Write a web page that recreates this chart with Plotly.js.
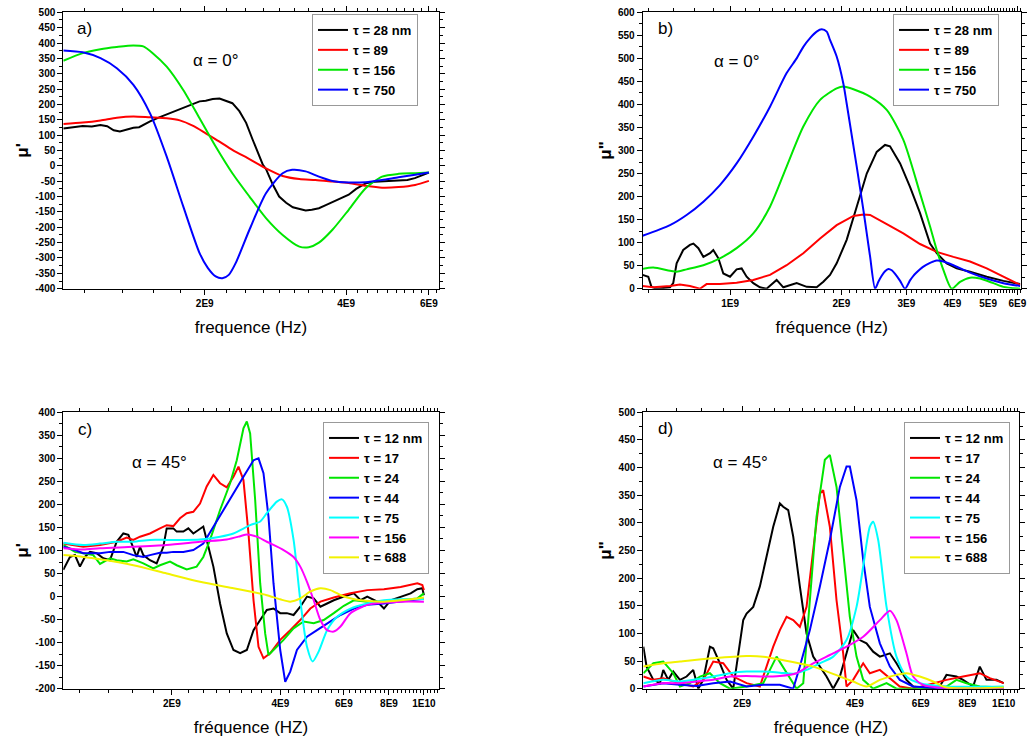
<!DOCTYPE html>
<html><head><meta charset="utf-8">
<script src="https://cdn.plot.ly/plotly-3.0.1.min.js"></script>
<style>html,body{margin:0;padding:0;background:#fff;} #chart{width:1027px;height:737px;}</style>
</head><body><div id="chart"></div>
<script>
// ---------- Panel a) mu' , alpha = 0 deg (frequency in GHz) ----------
const aBlackGHz = [1.00,1.05,1.10,1.15,1.20,1.24,1.28,1.32,1.36,1.41,1.45,1.53,1.60,1.66,1.72,1.80,1.87,1.95,2.01,2.08,2.15,2.22,2.29,2.37,2.45,2.53,2.61,2.66,2.70,2.79,2.88,2.98,3.08,3.18,3.28,3.38,3.50,3.62,3.74,3.90,4.05,4.20,4.40,4.60,4.80,5.00,5.20,5.40,5.60,5.80,6.00];
const aBlackMu  = [122,126,130,128,133,129,116,112,118,124,126,145,158,168,178,190,200,210,212,218,219,212,204,178,140,85,35,3,-10,-60,-100,-120,-135,-140,-145,-143,-138,-128,-118,-105,-94,-75,-57,-52,-51,-50,-49,-46,-40,-32,-22];
const aRedGHz = [1.00,1.10,1.20,1.30,1.41,1.53,1.66,1.77,1.89,2.01,2.15,2.29,2.49,2.70,2.93,3.18,3.44,3.74,4.05,4.40,4.77,5.17,5.61,6.00];
const aRedMu  = [136,141,148,157,161,158,155,148,130,106,79,52,22,-8,-33,-43,-46,-51,-56,-65,-71,-69,-62,-49];
const aGreenGHz = [1.00,1.10,1.20,1.30,1.41,1.48,1.55,1.66,1.80,1.95,2.11,2.29,2.49,2.70,2.93,3.18,3.33,3.50,3.74,4.05,4.40,4.77,5.17,5.61,6.00];
const aGreenMu  = [342,367,380,387,392,389,367,323,247,155,63,-24,-100,-170,-225,-263,-265,-250,-208,-143,-73,-35,-26,-24,-22];
const aBlueGHz = [1.00,1.10,1.20,1.30,1.41,1.53,1.66,1.80,1.95,2.03,2.11,2.18,2.25,2.33,2.49,2.70,2.93,3.07,3.28,3.50,3.74,4.05,4.40,4.77,5.17,5.61,6.00];
const aBlueMu  = [376,370,351,318,264,171,30,-132,-284,-332,-360,-366,-355,-315,-208,-89,-24,-13,-18,-35,-49,-54,-53,-46,-37,-29,-22];
const aNames = ['τ = 28 nm','τ = 89','τ = 156','τ = 750'];

// ---------- Panel b) mu'' , alpha = 0 deg ----------
const bBlackGHz = [0.579,0.600,0.612,0.632,0.687,0.701,0.716,0.746,0.778,0.795,0.820,0.846,0.882,0.900,0.929,0.958,0.999,1.041,1.074,1.108,1.155,1.204,1.255,1.336,1.393,1.514,1.612,1.715,1.788,1.864,1.943,2.068,2.202,2.344,2.494,2.627,2.710,2.886,3.070,3.268,3.479,3.627,3.860,4.108,4.464,4.954,5.497,6.100];
const bBlackMu  = [30,26,4,0,3,12,55,84,95,98,88,69,77,84,66,33,26,42,44,26,12,3,0,19,3,12,4,3,15,30,55,106,178,250,297,312,309,272,221,164,98,77,55,44,37,26,17,10];
const bRedGHz = [0.579,0.619,0.687,0.731,0.778,0.828,0.863,0.938,1.041,1.155,1.282,1.422,1.578,1.752,1.943,2.157,2.296,2.393,2.655,2.945,3.268,3.627,4.024,4.464,4.954,5.497,6.100];
const bRedMu  = [6,3,6,9,6,0,10,10,13,19,30,51,77,109,138,158,161,160,140,120,97,80,69,59,44,26,8];
const bGreenGHz = [0.579,0.619,0.687,0.716,0.762,0.846,0.938,1.041,1.155,1.282,1.422,1.578,1.752,1.943,2.026,2.157,2.393,2.655,2.945,3.268,3.479,3.627,3.780,3.982,4.195,4.464,4.752,5.164,5.497,6.100];
const bGreenMu  = [43,46,39,37,42,51,66,88,120,178,265,352,410,435,439,433,417,388,323,207,135,84,41,0,15,24,22,12,4,0];
const bBlueGHz = [0.579,0.687,0.762,0.846,0.938,1.041,1.155,1.282,1.422,1.514,1.578,1.650,1.715,1.770,1.826,1.864,1.943,2.026,2.068,2.157,2.202,2.296,2.344,2.393,2.469,2.520,2.573,2.627,2.683,2.740,2.797,2.886,2.976,3.070,3.135,3.268,3.337,3.479,3.552,3.627,3.780,4.024,4.464,4.954,5.497,6.100];
const bBlueMu  = [115,138,160,189,225,272,330,395,468,500,525,545,558,563,558,540,504,445,402,310,265,170,120,70,0,15,28,38,43,40,32,17,0,18,28,42,48,56,59,61,59,51,35,22,12,6];

// ---------- Panel c) mu' , alpha = 45 deg ----------
const cBlackGHz = [1.000,1.021,1.043,1.077,1.112,1.148,1.186,1.237,1.291,1.347,1.406,1.467,1.515,1.564,1.597,1.632,1.667,1.739,1.815,1.894,1.935,2.019,2.063,2.152,2.222,2.294,2.394,2.445,2.498,2.607,2.721,2.840,2.964,3.093,3.228,3.369,3.515,3.668,3.827,3.995,4.169,4.351,4.541,4.740,4.947,5.163,5.389,5.624,5.997,6.393,6.673,6.963,7.422,7.747,8.085,8.619,9.187,9.588,9.900,10.0];
const cBlackMu  = [58,72,86,90,65,86,97,94,83,79,119,137,134,105,86,108,90,79,72,108,148,148,141,141,148,137,148,152,123,65,-15,-80,-116,-123,-116,-73,-51,-29,-26,-36,-36,-40,-22,0,-4,-22,-15,-8,0,7,-8,0,-11,-26,-8,0,7,16,18,3];
const cRedGHz = [1.000,1.136,1.264,1.406,1.499,1.564,1.632,1.739,1.854,1.935,2.019,2.107,2.199,2.294,2.394,2.498,2.607,2.721,2.840,2.964,3.060,3.159,3.262,3.369,3.478,3.590,3.747,3.995,4.259,4.541,4.842,5.163,5.624,6.258,6.963,7.747,8.619,9.588,9.900,10.0];
const cRedMu  = [115,108,112,119,128,123,130,137,148,155,153,170,181,184,202,239,264,246,237,260,282,253,137,-8,-109,-134,-123,-94,-73,-51,-26,-11,-2,7,14,16,21,29,25,14];
const cGreenGHz = [1.000,1.077,1.136,1.211,1.264,1.347,1.406,1.499,1.564,1.667,1.777,1.854,1.977,2.063,2.199,2.343,2.445,2.552,2.721,2.901,3.027,3.159,3.228,3.297,3.405,3.515,3.629,3.707,3.827,4.081,4.351,4.639,4.947,5.275,5.624,5.997,6.393,6.963,7.747,8.619,9.588,10.0];
const cGreenMu  = [112,97,94,90,71,83,79,76,81,72,61,68,76,68,59,65,86,123,188,246,296,365,380,354,209,29,-80,-127,-116,-94,-69,-54,-58,-51,-36,-20,-8,-11,-11,-8,-4,7];
const cBlueGHz = [1.000,1.077,1.136,1.264,1.347,1.467,1.564,1.667,1.739,1.854,1.935,2.019,2.152,2.294,2.445,2.607,2.780,2.964,3.159,3.369,3.478,3.590,3.707,3.827,3.995,4.125,4.259,4.445,4.740,5.054,5.389,5.870,6.393,6.963,7.747,8.619,9.588,10.0];
const cBlueMu  = [108,101,94,94,97,97,90,86,90,95,95,97,97,101,115,152,188,224,260,296,300,268,173,29,-116,-185,-163,-116,-87,-73,-58,-40,-26,-18,-15,-11,-8,-5];
const cCyanGHz = [1.000,1.136,1.264,1.406,1.564,1.739,1.935,2.152,2.394,2.721,2.964,3.297,3.515,3.668,3.910,4.038,4.169,4.351,4.541,4.740,4.915,5.109,5.389,5.746,6.258,6.963,7.747,8.619,10.0];
const cCyanMu  = [117,112,115,119,119,123,123,123,124,130,137,155,163,181,206,211,195,123,-8,-109,-141,-119,-73,-44,-26,-15,-8,-6,-6];
const cMagGHz = [1.000,1.136,1.264,1.564,1.935,2.394,2.840,3.093,3.228,3.441,3.668,4.081,4.351,4.541,4.740,4.947,5.163,5.389,5.624,5.870,6.258,6.963,7.747,8.619,10.0];
const cMagMu  = [105,102,105,108,112,119,124,131,135,130,119,101,86,65,32,-8,-51,-73,-76,-65,-36,-18,-13,-11,-11];
const cYelGHz = [1.000,1.136,1.264,1.564,1.935,2.394,2.964,3.297,3.668,3.995,4.259,4.541,4.842,5.163,5.505,5.997,6.673,7.747,8.619,9.588,10.0];
const cYelMu  = [90,86,81,68,50,32,18,11,3,-6,-11,-4,11,18,14,0,-8,-11,-8,-4,-2];
const cNames = ['τ = 12 nm','τ = 17','τ = 24','τ = 44','τ = 75','τ = 156','τ = 688'];

// ---------- Panel d) mu'' , alpha = 45 deg ----------
const dBlackGHz = [1.088,1.110,1.157,1.205,1.230,1.268,1.308,1.363,1.420,1.479,1.526,1.573,1.639,1.673,1.743,1.816,1.892,1.951,2.012,2.054,2.140,2.229,2.323,2.420,2.521,2.573,2.654,2.737,2.851,2.971,3.095,3.225,3.360,3.500,3.647,3.800,3.958,4.124,4.297,4.476,4.665,4.962,5.167,5.495,5.726,6.344,6.746,7.030,7.474,7.787,8.282,8.629,8.991,9.560,10.0];
const dBlackMu  = [76,40,16,10,34,16,31,16,22,34,0,16,76,73,46,16,0,64,124,136,148,185,239,293,335,329,323,275,185,100,58,40,22,0,22,64,106,88,82,67,58,64,46,16,4,0,4,25,22,16,4,40,16,16,10];
const dRedGHz = [1.088,1.157,1.230,1.308,1.363,1.479,1.573,1.673,1.779,1.892,1.971,2.054,2.229,2.323,2.420,2.521,2.627,2.737,2.851,2.971,3.095,3.225,3.291,3.429,3.573,3.722,3.800,3.958,4.210,4.386,4.665,4.962,5.274,5.726,7.030,7.787,8.629,9.177,10.0];
const dRedMu  = [22,16,19,13,10,4,16,49,46,22,16,10,4,40,76,106,130,124,112,148,245,353,359,293,160,64,4,16,46,28,34,19,4,0,16,22,28,19,10];
const dGreenGHz = [1.088,1.157,1.230,1.308,1.363,1.449,1.542,1.639,1.743,1.854,2.054,2.276,2.470,2.627,2.794,2.911,3.032,3.159,3.325,3.429,3.573,3.722,3.878,4.041,4.210,4.476,4.861,5.167,5.726,7.030,7.474,7.949,8.629,10.0];
const dGreenMu  = [28,46,49,28,4,10,22,28,10,0,4,10,58,28,0,10,160,311,414,423,365,251,130,58,16,0,10,0,0,4,16,10,4,2];
const dBlueGHz = [1.088,1.230,1.363,1.510,1.673,1.854,2.054,2.276,2.521,2.737,2.851,3.032,3.225,3.429,3.647,3.800,3.878,4.041,4.210,4.386,4.665,4.962,5.274,5.726,7.030,10.0];
const dBlueMu  = [4,10,7,5,10,13,4,7,7,0,40,106,185,269,365,402,402,341,233,148,82,40,16,4,0,0];
const dCyanGHz = [1.088,1.230,1.363,1.510,1.673,1.854,2.054,2.276,2.521,2.737,2.971,3.225,3.500,3.800,4.041,4.210,4.386,4.476,4.617,4.861,5.167,5.495,5.966,7.030,10.0];
const dCyanMu  = [10,16,13,17,22,28,31,31,29,27,34,46,58,88,148,221,293,302,269,148,58,22,10,4,4];
const dMagGHz = [1.088,1.230,1.363,1.510,1.673,1.854,2.054,2.276,2.521,2.794,3.095,3.429,3.800,4.210,4.665,4.962,5.167,5.495,5.726,6.089,7.030,10.0];
const dMagMu  = [4,10,10,13,16,22,23,22,23,28,46,61,76,94,124,141,124,64,22,7,1,0];
const dYelGHz = [1.088,1.230,1.363,1.673,2.054,2.276,2.521,3.095,3.647,3.958,4.297,4.665,5.167,5.495,5.966,6.475,7.030,8.629,10.0];
const dYelMu  = [40,46,49,55,59,58,53,40,22,13,4,16,25,28,22,13,2,1,2];

// ---------- tick labels ----------
const aXTicks = [2e9,4e9,6e9];            const aXLabels = ['2E9','4E9','6E9'];
const bXTicks = [1e9,2e9,3e9,4e9,5e9,6e9]; const bXLabels = ['1E9','2E9','3E9','4E9','5E9','6E9'];
const cdXTicks = [2e9,4e9,6e9,8e9,1e10];  const cdXLabels = ['2E9','4E9','6E9','8E9','1E10'];
const aYTicks = [-400,-350,-300,-250,-200,-150,-100,-50,0,50,100,150,200,250,300,350,400,450,500];
const bYTicks = [0,50,100,150,200,250,300,350,400,450,500,550,600];
const cYTicks = [-200,-150,-100,-50,0,50,100,150,200,250,300,350,400];
const dYTicks = [0,50,100,150,200,250,300,350,400,450,500];

// ---------- build ----------
const F = 'Arial, "Liberation Sans", sans-serif';
const W = 1027, H = 737;
const px = v => v / W, py = v => 1 - v / H;
const C = {k:'#000000', r:'#ff0000', g:'#00e600', b:'#0000ff', c:'#00ffff', m:'#ff00ff', y:'#f2f200'};

function tr(ghz, mu, name, color, n, legend, smooth) {
  return {x: ghz.map(g => g * 1e9), y: mu, name: name, type: 'scatter', mode: 'lines',
    line: {color: color, width: 2, shape: smooth ? 'spline' : 'linear', smoothing: 0.7},
    xaxis: 'x' + (n === 1 ? '' : n), yaxis: 'y' + (n === 1 ? '' : n), legend: legend, hoverinfo: 'skip'};
}

const traces = [
  tr(aBlackGHz, aBlackMu, aNames[0], C.k, 1, 'legend', false),
  tr(aRedGHz, aRedMu, aNames[1], C.r, 1, 'legend', true),
  tr(aGreenGHz, aGreenMu, aNames[2], C.g, 1, 'legend', true),
  tr(aBlueGHz, aBlueMu, aNames[3], C.b, 1, 'legend', true),
  tr(bBlackGHz, bBlackMu, aNames[0], C.k, 2, 'legend2', false),
  tr(bRedGHz, bRedMu, aNames[1], C.r, 2, 'legend2', false),
  tr(bGreenGHz, bGreenMu, aNames[2], C.g, 2, 'legend2', true),
  tr(bBlueGHz, bBlueMu, aNames[3], C.b, 2, 'legend2', true),
  tr(cBlackGHz, cBlackMu, cNames[0], C.k, 3, 'legend3', false),
  tr(cRedGHz, cRedMu, cNames[1], C.r, 3, 'legend3', false),
  tr(cGreenGHz, cGreenMu, cNames[2], C.g, 3, 'legend3', false),
  tr(cBlueGHz, cBlueMu, cNames[3], C.b, 3, 'legend3', false),
  tr(cCyanGHz, cCyanMu, cNames[4], C.c, 3, 'legend3', true),
  tr(cMagGHz, cMagMu, cNames[5], C.m, 3, 'legend3', true),
  tr(cYelGHz, cYelMu, cNames[6], C.y, 3, 'legend3', true),
  tr(dBlackGHz, dBlackMu, cNames[0], C.k, 4, 'legend4', false),
  tr(dRedGHz, dRedMu, cNames[1], C.r, 4, 'legend4', false),
  tr(dGreenGHz, dGreenMu, cNames[2], C.g, 4, 'legend4', false),
  tr(dBlueGHz, dBlueMu, cNames[3], C.b, 4, 'legend4', false),
  tr(dCyanGHz, dCyanMu, cNames[4], C.c, 4, 'legend4', true),
  tr(dMagGHz, dMagMu, cNames[5], C.m, 4, 'legend4', true),
  tr(dYelGHz, dYelMu, cNames[6], C.y, 4, 'legend4', true)
];

function baseAxis(extra) {
  return Object.assign({
    showline: true, linecolor: '#000', linewidth: 1, mirror: 'ticks',
    ticks: 'outside', ticklen: 5, tickwidth: 1, tickcolor: '#000',
    showgrid: false, zeroline: false, automargin: false, fixedrange: true,
    tickfont: {family: F, size: 10, weight: 'bold', color: '#000'}
  }, extra);
}
function xAxis(dom, range, vals, labels, minorDtick, title, anchor) {
  return baseAxis({
    type: 'log', domain: dom, range: range, anchor: anchor,
    tickmode: 'array', tickvals: vals, ticktext: labels,
    minor: {ticks: 'outside', ticklen: 3, tickwidth: 1, tickcolor: '#000', dtick: minorDtick, tick0: 0},
    title: {text: title, font: {family: F, size: 17, color: '#000'}, standoff: 13}
  });
}
function yAxis(dom, range, vals, title, anchor) {
  return baseAxis({
    domain: dom, range: range, anchor: anchor,
    tickmode: 'array', tickvals: vals, ticktext: vals.map(String),
    minor: {ticks: 'outside', ticklen: 3, tickwidth: 1, tickcolor: '#000', dtick: 25, tick0: 0},
    title: {text: title, font: {family: F, size: 17, weight: 'bold', color: '#000'}, standoff: 2}
  });
}
function legendAt(x, y) {
  return {x: px(x), y: py(y), xanchor: 'left', yanchor: 'top', bgcolor: '#fff',
    bordercolor: '#999', borderwidth: 1, tracegroupgap: 0, itemwidth: 30,
    font: {family: F, size: 13, weight: 'bold', color: '#000'}};
}
function note(text, x, y) {
  return {text: text, x: px(x), y: py(y), xref: 'paper', yref: 'paper', showarrow: false,
    xanchor: 'center', yanchor: 'middle', font: {family: F, size: 17, color: '#000'}};
}

const dTop = [py(288.7), py(12.3)], dBot = [py(688.7), py(412.3)];
const minor29 = 'L' + (2e9 / 9);

const layout = {
  width: W, height: H, margin: {l: 0, r: 0, t: 0, b: 0},
  paper_bgcolor: '#fff', plot_bgcolor: '#fff', showlegend: true,
  xaxis:  xAxis([px(63.3), px(438.7)], [9, 9.799], aXTicks, aXLabels, minor29, 'frequence (Hz)', 'y'),
  yaxis:  yAxis(dTop, [-400, 500], aYTicks, "μ'", 'x'),
  xaxis2: xAxis([px(642.7), px(1020.7)], [8.763, 9.787], bXTicks, bXLabels, 'L100000000', 'fréquence (Hz)', 'y2'),
  yaxis2: yAxis(dTop, [0, 600], bYTicks, 'μ"', 'x2'),
  xaxis3: xAxis([px(63.3), px(438.7)], [9, 10.041], cdXTicks, cdXLabels, minor29, 'fréquence (HZ)', 'y3'),
  yaxis3: yAxis(dBot, [-200, 400], cYTicks, "μ'", 'x3'),
  xaxis4: xAxis([px(643.3), px(1018.7)], [9.0365, 10.04], cdXTicks, cdXLabels, minor29, 'fréquence (HZ)', 'y4'),
  yaxis4: yAxis(dBot, [0, 500], dYTicks, 'μ"', 'x4'),
  legend:  legendAt(312, 14),
  legend2: legendAt(893, 14),
  legend3: legendAt(323, 422),
  legend4: legendAt(904, 422),
  annotations: [
    note('a)', 84.5, 28.5), note('α = 0°', 215.5, 61),
    note('b)', 665.5, 28.5), note('α = 0°', 736.3, 61.7),
    note('c)', 84.5, 429), note('α = 45°', 159.7, 462),
    note('d)', 665.5, 428.5), note('α = 45°', 740.8, 462)
  ]
};

Plotly.newPlot('chart', traces, layout, {displayModeBar: false, staticPlot: true});
</script></body></html>
